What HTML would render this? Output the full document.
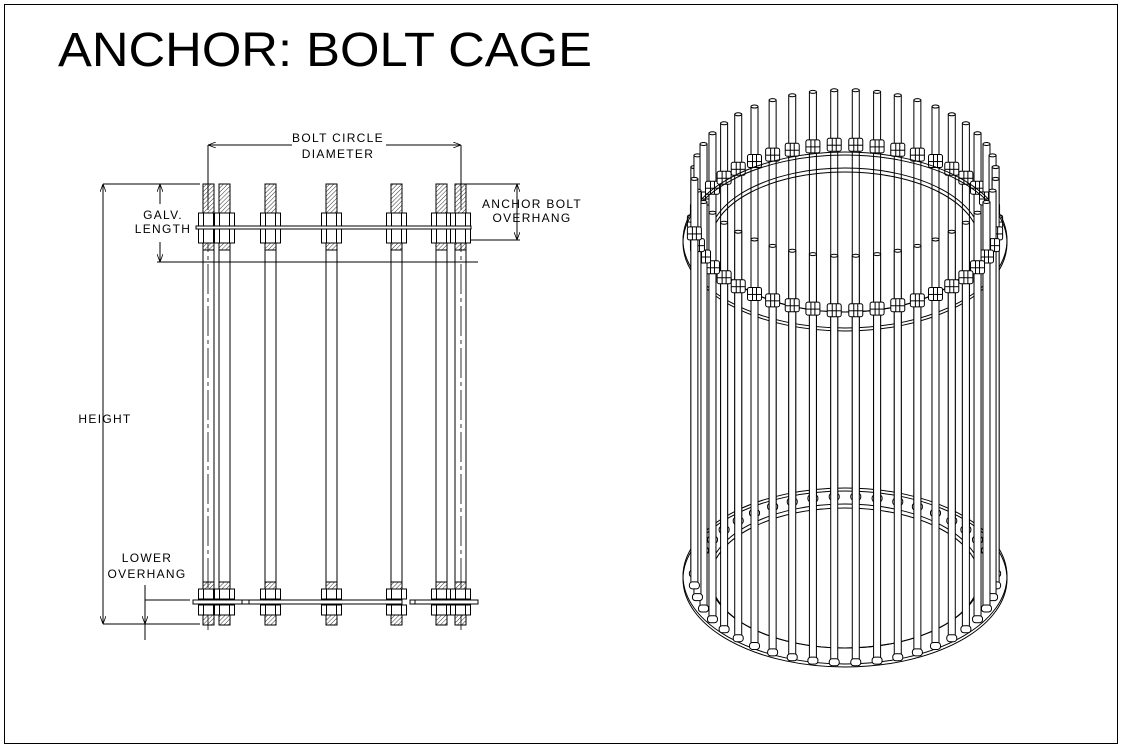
<!DOCTYPE html>
<html><head><meta charset="utf-8"><style>
html,body{margin:0;padding:0;background:#fff;}
svg{display:block}
text{font-family:"Liberation Sans",sans-serif;}
.t{font-size:12px;letter-spacing:1.3px;fill:#000}
</style></head><body>
<svg id="s" width="1122" height="747" viewBox="0 0 1122 747" xmlns="http://www.w3.org/2000/svg">
<defs>
<pattern id="h" width="3" height="3" patternUnits="userSpaceOnUse" patternTransform="rotate(45)">
<line x1="0" y1="0" x2="0" y2="3" stroke="#000" stroke-width="0.8"/></pattern>
<marker id="a" markerWidth="8" markerHeight="6" refX="8" refY="3" orient="auto-start-reverse" markerUnits="userSpaceOnUse"><path d="M0,0 L8,3 L0,6" fill="none" stroke="#000" stroke-width="0.8"/></marker>
</defs>
<rect x="4.5" y="4.5" width="1113" height="739" fill="none" stroke="#000" stroke-width="1"/>
<text x="58" y="66" font-size="48" fill="#000" textLength="534" lengthAdjust="spacingAndGlyphs">ANCHOR: BOLT CAGE</text>
<g id="left" stroke="#000" stroke-width="1" fill="none"></g>
<g id="cage" stroke="#000" stroke-width="1"></g>
<g class="t" stroke="none">
<text class="t" x="338" y="142" text-anchor="middle">BOLT CIRCLE</text>
<text class="t" x="338" y="158" text-anchor="middle">DIAMETER</text>
<text class="t" x="163" y="219" text-anchor="middle">GALV.</text>
<text class="t" x="163" y="233" text-anchor="middle">LENGTH</text>
<text class="t" x="532" y="208" text-anchor="middle">ANCHOR BOLT</text>
<text class="t" x="532" y="222" text-anchor="middle">OVERHANG</text>
<text class="t" x="105" y="423" text-anchor="middle">HEIGHT</text>
<text class="t" x="147" y="562" text-anchor="middle">LOWER</text>
<text class="t" x="147" y="578" text-anchor="middle">OVERHANG</text>
</g>
</svg>
<script>
var NS="http://www.w3.org/2000/svg";
function el(p,n,a){var e=document.createElementNS(NS,n);for(var k in a)e.setAttribute(k,a[k]);p.appendChild(e);return e;}
var L=document.getElementById('left');
function ln(x1,y1,x2,y2,extra){var a={x1:x1,y1:y1,x2:x2,y2:y2};for(var k in extra)a[k]=extra[k];return el(L,'line',a);}
ln(208,145,292,145,{'marker-start':'url(#a)'});ln(386,145,461,145,{'marker-end':'url(#a)'});
ln(208,145,208,200);ln(461,145,461,200);
ln(103,184,200,184);ln(103,624,200,624);
ln(103,184,103,624,{'marker-start':'url(#a)','marker-end':'url(#a)'});
ln(160,184,160,204,{'marker-start':'url(#a)'});ln(160,242,160,262,{'marker-end':'url(#a)'});
ln(157,262,478,262);
ln(466,184,520,184);ln(466,240,520,240);
ln(517,184,517,240,{'marker-start':'url(#a)','marker-end':'url(#a)'});
ln(145,585,145,624,{'marker-end':'url(#a)'});ln(145,600,190,600);
ln(145,624,145,640);
ln(208,180,208,630,{'stroke-dasharray':'30,4,4,4','stroke-width':'0.8'});
ln(461,180,461,630,{'stroke-dasharray':'30,4,4,4','stroke-width':'0.8'});
var xs=[203,219,265,326,391,436,455];
xs.forEach(function(x){
 var w=11,c=x+w/2;
 el(L,'rect',{x:x,y:184,width:w,height:66,fill:'url(#h)'});
 el(L,'rect',{x:x,y:582,width:w,height:43,fill:'url(#h)'});
 ln(x,250,x,582);ln(x+w,250,x+w,582);
 [[213,226],[229,243],[589,599],[605,615]].forEach(function(r){
  el(L,'rect',{x:c-10,y:r[0],width:20,height:r[1]-r[0],fill:'#fff'});
  ln(c-5,r[0],c-5,r[1]);ln(c+5,r[0],c+5,r[1]);
 });
});
el(L,'rect',{x:196,y:226,width:275,height:3,fill:'#fff'});
el(L,'rect',{x:193,y:600,width:209,height:4,fill:'#fff'});
el(L,'rect',{x:242,y:600,width:7,height:4,fill:'#fff'});
el(L,'rect',{x:413,y:600,width:65,height:4,fill:'#fff'});
el(L,'rect',{x:410,y:600,width:5,height:4,fill:'#fff'});

var C=document.getElementById('cage');
var cx=845,N=44,rx=151,ry=83,cy=228;
var bolts=[];
for(var i=0;i<N;i++){var t=(i+0.5)/N*2*Math.PI;bolts.push({x:cx+rx*Math.cos(t),y:cy+ry*Math.sin(t),s:Math.sin(t)});}
function bolt(b){
 var w=7,top=b.y-55,bot=b.y+350;
 el(C,'rect',{x:b.x-w/2,y:top,width:w,height:bot-top,fill:'#fff'});
 el(C,'ellipse',{cx:b.x,cy:top,rx:w/2,ry:1.5,fill:'#fff'});
 el(C,'rect',{x:b.x-7,y:b.y-7,width:14,height:13,rx:2,fill:'#fff'});
 el(C,'line',{x1:b.x-7,y1:b.y,x2:b.x+7,y2:b.y});
 el(C,'line',{x1:b.x-2,y1:b.y-7,x2:b.x-2,y2:b.y+6});
 el(C,'line',{x1:b.x+2,y1:b.y-7,x2:b.x+2,y2:b.y+6});
 el(C,'rect',{x:b.x-5,y:bot-2,width:10,height:7,rx:3,fill:'#fff'});
}
bolts.filter(function(b){return b.s<0}).forEach(bolt);
function ring(y){
 el(C,'ellipse',{cx:cx,cy:y,rx:162,ry:88,fill:'none'});
 el(C,'ellipse',{cx:cx,cy:y+3,rx:162,ry:88,fill:'none'});
 el(C,'ellipse',{cx:cx,cy:y,rx:136,ry:72,fill:'none'});
 el(C,'ellipse',{cx:cx,cy:y+2,rx:134,ry:70,fill:'none'});
}
ring(240);ring(576);
bolts.filter(function(b){return b.s>=0}).forEach(bolt);
</script>
</body></html>
